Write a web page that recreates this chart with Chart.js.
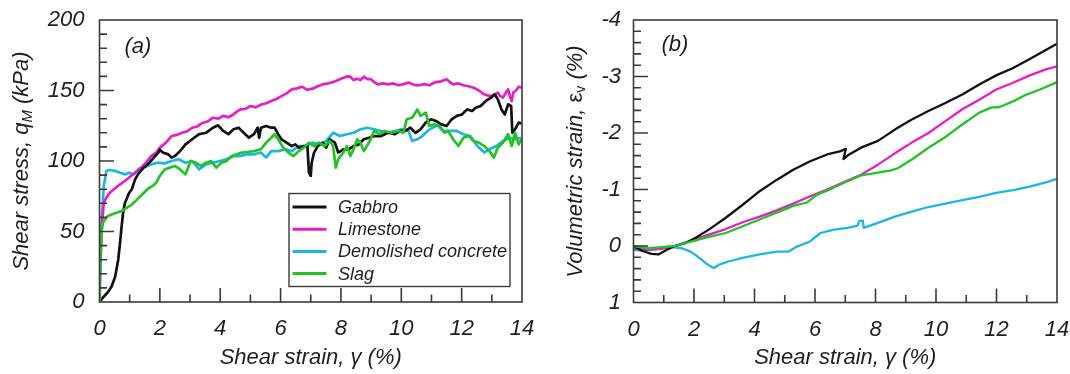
<!DOCTYPE html>
<html>
<head>
<meta charset="utf-8">
<script src="https://cdn.jsdelivr.net/npm/chart.js@4.4.1/dist/chart.umd.min.js"></script>
<style>
  html, body { margin: 0; padding: 0; background: #fff; overflow: hidden; }
  #wrap { position: relative; width: 1070px; height: 374px; overflow: hidden; }
  .panel { position: absolute; top: 0; }
  #panelA { left: 0; }
  #panelB { left: 540px; }
</style>
</head>
<body>
<div id="wrap">
  <div class="panel" id="panelA"><canvas id="stressChart" width="540" height="374"></canvas></div>
  <div class="panel" id="panelB"><canvas id="volumeChart" width="560" height="374"></canvas></div>
</div>
<script>
// Series names and colours
const materials = ['Gabbro', 'Limestone', 'Demolished concrete', 'Slag'];
const colors = ['#111111', '#e61ec6', '#1cb5e8', '#22c322'];

// Axis ticks
const strainTicks = [0, 2, 4, 6, 8, 10, 12, 14];
const stressTicks = [0, 50, 100, 150, 200];
const volumeTicks = [-4, -3, -2, -1, 0, 1];

// (a) shear stress q_M (kPa) against shear strain (%)
const gabbroStress = [[0,0],[0.11,3],[0.28,7],[0.4,11],[0.52,18],[0.62,30],[0.68,42],[0.73,53],[0.78,63],[0.84,70],[0.97,77],[1.07,80],[1.18,87],[1.29,91],[1.45,95],[1.62,98],[1.82,103],[1.95,106],[2.0,108],[2.1,106],[2.28,104.7],[2.39,102.4],[2.5,103.5],[2.67,107],[2.85,111.8],[3.07,115.4],[3.3,119],[3.53,120],[3.76,123.6],[3.93,125.3],[4.1,121.3],[4.27,119],[4.44,122.5],[4.61,123.6],[4.78,120],[4.95,116.5],[5.12,119],[5.24,123.6],[5.29,116.5],[5.35,123.6],[5.52,124.8],[5.69,123.6],[5.8,123.6],[5.92,119],[6.03,115.4],[6.2,113],[6.37,110.6],[6.49,111.8],[6.6,109.5],[6.77,110.6],[6.89,110.6],[6.94,91.7],[7.0,89.4],[7.03,98.8],[7.11,106],[7.23,110.6],[7.4,113],[7.51,109.5],[7.63,115.4],[7.8,113],[7.91,106],[8.08,108.3],[8.25,108.3],[8.42,110.6],[8.59,111.8],[8.76,115.4],[8.93,116.5],[9.1,117.7],[9.33,117.7],[9.56,120],[9.79,119],[9.96,121.3],[10.13,121.3],[10.3,123.6],[10.47,120],[10.64,122.5],[10.81,127.2],[10.98,129.6],[11.15,128.4],[11.32,126],[11.5,124.8],[11.67,129.6],[11.84,132],[12.01,133],[12.18,136.6],[12.35,135.5],[12.46,137.8],[12.63,139],[12.8,142.6],[12.98,145],[13.09,147.3],[13.2,143.7],[13.32,136.6],[13.43,133],[13.54,140.2],[13.64,139],[13.68,120],[13.77,122.5],[13.89,127.2],[13.98,126.7]];
const limestoneStress = [[0,0],[0.02,24],[0.08,55],[0.14,70],[0.2,73],[0.34,77.5],[0.51,80.5],[0.68,83.5],[0.85,86],[1.02,89],[1.2,92],[1.37,95],[1.55,99],[1.71,103.5],[1.88,106],[2.0,109.5],[2.2,113],[2.39,117.7],[2.56,118.5],[2.73,120],[2.9,121],[3.07,123.6],[3.24,124.5],[3.41,127],[3.58,128],[3.76,130.7],[3.93,130],[4.1,132],[4.27,131],[4.44,133],[4.55,135],[4.67,136.6],[4.84,137],[5.0,139],[5.18,138],[5.35,140],[5.52,141],[5.69,142.5],[5.86,144],[6.03,146],[6.2,148],[6.37,150.8],[6.54,151.5],[6.71,152.7],[6.88,150.5],[7.06,151.3],[7.23,153],[7.4,154.4],[7.57,155],[7.74,156],[7.91,157.5],[8.08,159],[8.2,160],[8.31,159.8],[8.42,157.5],[8.54,158.4],[8.65,157.5],[8.76,159.8],[8.88,158],[8.99,158],[9.1,156],[9.22,154.4],[9.4,155],[9.56,154.4],[9.73,155],[9.9,153.7],[10.07,154.5],[10.24,155.6],[10.41,154],[10.58,153.7],[10.76,154.5],[10.93,153.7],[11.04,155],[11.15,156],[11.32,156.5],[11.5,158],[11.61,156],[11.72,154.4],[11.89,155],[12.06,153.7],[12.23,153],[12.4,152],[12.57,150],[12.75,147.3],[12.86,146.5],[12.98,146],[13.09,147],[13.2,148.5],[13.28,146],[13.37,145],[13.45,148],[13.54,150.8],[13.6,146],[13.66,142.5],[13.71,148.5],[13.8,150],[13.89,152.7],[13.98,152]];
const concreteStress = [[0,2],[0.03,25.5],[0.08,61],[0.14,82],[0.23,93],[0.34,93.6],[0.51,93],[0.68,91.7],[0.85,90.5],[0.97,91.7],[1.14,90.5],[1.31,94.6],[1.48,95.3],[1.71,97.6],[1.93,98.8],[2.16,98.3],[2.39,100],[2.62,101.2],[2.85,98.8],[3.07,100],[3.3,94],[3.53,97.6],[3.76,98.8],[3.98,100],[4.21,101.2],[4.44,103.5],[4.67,103.5],[4.89,104.7],[5.12,104.7],[5.35,106],[5.52,102.4],[5.69,107],[5.92,107],[6.15,108.3],[6.37,107],[6.6,110.6],[6.83,110.6],[7.06,113],[7.28,111.8],[7.51,114.2],[7.74,120],[7.97,117.7],[8.2,119],[8.42,120],[8.65,122.5],[8.88,123.6],[9.1,122.5],[9.33,121.3],[9.56,120],[9.79,121.3],[10.02,122.5],[10.24,121.3],[10.36,114.2],[10.53,115.4],[10.7,117.7],[10.87,121.3],[11.04,123.6],[11.21,125.3],[11.38,121.3],[11.61,121.3],[11.84,121.3],[12.06,119],[12.29,117.7],[12.52,110.6],[12.75,106],[12.92,108.3],[13.15,110.6],[13.37,114.2],[13.6,116.5],[13.77,115.4],[13.98,116.5]];
const slagStress = [[0,0],[0.01,20.8],[0.06,49],[0.11,56],[0.18,58.5],[0.28,61],[0.51,63],[0.74,64.5],[0.91,66.9],[1.08,69.3],[1.25,72.8],[1.42,76.4],[1.59,80],[1.76,82.3],[1.88,84.6],[2.0,89.4],[2.16,94],[2.33,95.3],[2.5,96.5],[2.67,94],[2.85,90.5],[3.02,100],[3.19,98.8],[3.36,96.5],[3.53,98.8],[3.7,100],[3.87,95.3],[4.04,98.8],[4.21,100],[4.38,103.5],[4.55,104.7],[4.72,106],[4.89,106.4],[5.12,107],[5.35,108.3],[5.52,113],[5.69,116.5],[5.8,119],[5.92,115.4],[6.09,109.5],[6.26,106],[6.43,103.5],[6.6,107],[6.77,109.5],[6.94,113],[7.11,110.6],[7.28,113],[7.45,110.6],[7.63,114.2],[7.74,110.6],[7.83,95.3],[7.91,101.2],[8.08,106],[8.2,110.6],[8.31,103.5],[8.42,108.3],[8.54,115.4],[8.65,113],[8.76,107],[8.93,113],[9.1,121.3],[9.28,119],[9.45,121.3],[9.67,120],[9.9,121.3],[10.07,120],[10.18,129.6],[10.36,130.7],[10.53,136.6],[10.64,132],[10.81,134.3],[10.93,124.8],[11.1,126],[11.27,124.8],[11.44,120],[11.55,121.3],[11.72,115.4],[11.89,110.6],[12.06,116.5],[12.23,117.7],[12.4,114.2],[12.57,113],[12.75,110.6],[12.92,107],[13.07,102.4],[13.2,109.5],[13.37,113],[13.54,119],[13.66,110.6],[13.77,120],[13.89,111.8],[13.98,115.4]];

// (b) volumetric strain (%) against shear strain (%)
const gabbroVolume = [[0,0],[0.26,0.08],[0.59,0.14],[0.82,0.15],[1.09,0.07],[1.37,0],[1.71,-0.05],[2.04,-0.14],[2.49,-0.29],[3.05,-0.5],[3.61,-0.73],[4.17,-0.97],[4.73,-1.17],[5.28,-1.35],[5.84,-1.5],[6.4,-1.62],[6.85,-1.68],[7.02,-1.72],[6.94,-1.54],[7.13,-1.62],[7.52,-1.74],[8.08,-1.86],[8.64,-2.06],[9.2,-2.24],[9.75,-2.39],[10.31,-2.53],[10.87,-2.68],[11.43,-2.86],[11.99,-3.02],[12.55,-3.15],[13.1,-3.31],[13.66,-3.48],[14,-3.58]];
const limestoneVolume = [[0,0.04],[0.48,0.07],[0.93,0.05],[1.37,0],[1.93,-0.1],[2.49,-0.2],[3.05,-0.3],[3.61,-0.42],[4.17,-0.52],[4.73,-0.63],[5.28,-0.75],[5.84,-0.88],[6.4,-1.0],[6.96,-1.13],[7.52,-1.26],[8.08,-1.44],[8.64,-1.64],[9.2,-1.83],[9.75,-2.0],[10.31,-2.21],[10.87,-2.42],[11.43,-2.59],[11.99,-2.77],[12.55,-2.89],[13.1,-3.02],[13.66,-3.13],[14,-3.18]];
const concreteVolume = [[0,0.07],[0.26,0.08],[0.7,0.06],[1.15,0.01],[1.6,0.04],[1.88,0.1],[2.1,0.18],[2.38,0.3],[2.55,0.36],[2.66,0.39],[2.83,0.33],[3.16,0.27],[3.61,0.21],[4.17,0.15],[4.73,0.1],[5.12,0.1],[5.4,0.01],[5.84,-0.08],[6.18,-0.23],[6.63,-0.29],[7.07,-0.32],[7.41,-0.36],[7.46,-0.44],[7.58,-0.45],[7.61,-0.32],[8.08,-0.41],[8.64,-0.52],[9.2,-0.61],[9.75,-0.69],[10.31,-0.75],[10.87,-0.81],[11.43,-0.87],[11.99,-0.94],[12.55,-0.99],[13.1,-1.05],[13.66,-1.13],[14,-1.19]];
const slagVolume = [[0,0],[0.48,0.04],[0.93,0.02],[1.37,0],[1.93,-0.08],[2.49,-0.16],[3.05,-0.23],[3.61,-0.35],[4.17,-0.47],[4.73,-0.59],[5.28,-0.71],[5.73,-0.77],[6.07,-0.91],[6.4,-0.98],[6.96,-1.12],[7.52,-1.25],[8.08,-1.3],[8.52,-1.34],[8.75,-1.38],[9.2,-1.53],[9.75,-1.74],[10.31,-1.93],[10.87,-2.15],[11.43,-2.36],[11.82,-2.45],[12.1,-2.46],[12.55,-2.56],[12.99,-2.68],[13.44,-2.77],[14,-2.9]];

const FONT = "'Liberation Sans', Arial, sans-serif";
const INK = '#1e1e1e';
const AXIS = '#3a3a3a';

function toPoints(pairs) {
    return pairs.map(p => ({ x: p[0], y: p[1] }));
}

function makeDatasets(seriesList, width) {
    // Slag is drawn on top, then Gabbro, Limestone, concrete
    const drawOrder = [1, 2, 3, 0];
    return seriesList.map((pairs, i) => ({
        label: materials[i],
        data: toPoints(pairs),
        borderColor: colors[i],
        backgroundColor: colors[i],
        borderWidth: width,
        pointRadius: 0,
        tension: 0,
        borderJoinStyle: 'round',
        order: drawOrder[i]
    }));
}

// Rotated y title with a subscript part
function drawYTitle(ctx, cx, cy, parts) {
    ctx.save();
    ctx.translate(cx, cy);
    ctx.rotate(-Math.PI / 2);
    ctx.fillStyle = INK;
    ctx.textBaseline = 'middle';
    ctx.textAlign = 'left';
    let total = 0;
    parts.forEach(p => {
        ctx.font = p.font;
        p.w = ctx.measureText(p.text).width;
        total += p.w;
    });
    let x = -total / 2;
    parts.forEach(p => {
        ctx.font = p.font;
        ctx.fillText(p.text, x, p.dy || 0);
        x += p.w;
    });
    ctx.restore();
}

// Frame, inward tick marks, titles, panel letter and legend
const panelDecor = {
    id: 'panelDecor',
    afterDatasetsDraw(chart, args, opts) {
        const { ctx, chartArea: a, scales } = chart;
        ctx.save();
        ctx.strokeStyle = AXIS;
        ctx.lineWidth = 1.6;
        ctx.strokeRect(a.left, a.top, a.right - a.left, a.bottom - a.top);

        ctx.beginPath();
        const xs = scales.x, ys = scales.y;
        const nx = Math.round((xs.max - xs.min) / opts.xMinor);
        for (let i = 1; i < nx; i++) {
            const px = xs.getPixelForValue(xs.min + i * opts.xMinor);
            const len = i % opts.xEvery === 0 ? 14 : 7.5;
            ctx.moveTo(px, a.bottom);
            ctx.lineTo(px, a.bottom - len);
        }
        const ny = Math.round((ys.max - ys.min) / opts.yMinor);
        for (let i = 1; i < ny; i++) {
            const py = ys.getPixelForValue(ys.min + i * opts.yMinor);
            const len = i % opts.yEvery === 0 ? 14.5 : 7.5;
            ctx.moveTo(a.left, py);
            ctx.lineTo(a.left + len, py);
        }
        ctx.stroke();

        // panel letter
        ctx.fillStyle = INK;
        ctx.font = 'italic 22px ' + FONT;
        ctx.textBaseline = 'middle';
        ctx.textAlign = 'left';
        ctx.fillText(opts.letter, a.left + opts.letterDx, opts.letterY);

        drawYTitle(ctx, opts.titleX, opts.titleY, opts.titleParts);

        if (opts.legend) {
            const lg = opts.legend;
            ctx.fillStyle = '#fff';
            ctx.fillRect(lg.left, lg.top, lg.width, lg.height);
            ctx.strokeStyle = AXIS;
            ctx.lineWidth = 1.4;
            ctx.strokeRect(lg.left, lg.top, lg.width, lg.height);
            ctx.font = 'italic 18px ' + FONT;
            chart.data.datasets.forEach((ds, i) => {
                const y = lg.top + 13.5 + i * 22.2;
                ctx.strokeStyle = ds.borderColor;
                ctx.lineWidth = 3;
                ctx.beginPath();
                ctx.moveTo(lg.left + 3.5, y);
                ctx.lineTo(lg.left + 37.5, y);
                ctx.stroke();
                ctx.fillStyle = INK;
                ctx.fillText(ds.label, lg.left + 49, y + 1);
            });
        }
        ctx.restore();
    }
};

function tickFont() {
    return { family: FONT, size: 22, style: 'italic' };
}

// Label offset comes from an undrawn tick length so that the
// scale padding (ticks.padding) does not push the chart area in
function hiddenTicks(length) {
    return { display: false, drawTicks: true, tickLength: length };
}

function strainAxis(height) {
    return {
        type: 'linear',
        min: 0,
        max: 14,
        grid: hiddenTicks(14),
        border: { display: false },
        ticks: {
            stepSize: 2,
            padding: 0,
            color: INK,
            font: tickFont(),
            maxRotation: 0,
            autoSkip: false
        },
        afterBuildTicks: axis => { axis.ticks = strainTicks.map(v => ({ value: v })); },
        title: {
            display: true,
            text: 'Shear strain, γ (%)',
            color: INK,
            font: { family: FONT, size: 22, style: 'italic' },
            padding: { top: 0, bottom: 3 }
        },
        afterFit: axis => { axis.height = height; }
    };
}

// (a) shear stress
new Chart(document.getElementById('stressChart'), {
    type: 'line',
    data: {
        datasets: makeDatasets([gabbroStress, limestoneStress, concreteStress, slagStress], 2.7)
    },
    options: {
        responsive: false,
        animation: false,
        layout: { padding: { top: 20, right: 18, left: 0, bottom: 0 } },
        scales: {
            x: strainAxis(72),
            y: {
                type: 'linear',
                min: 0,
                max: 200,
                grid: hiddenTicks(15),
                border: { display: false },
                ticks: { stepSize: 50, padding: 0, color: INK, font: tickFont() },
                afterBuildTicks: axis => { axis.ticks = stressTicks.map(v => ({ value: v })); },
                afterFit: axis => { axis.width = 99.5; }
            }
        },
        plugins: {
            legend: { display: false },
            tooltip: { enabled: false },
            panelDecor: {
                xMinor: 1, xEvery: 2, yMinor: 10, yEvery: 5,
                letter: '(a)', letterDx: 25, letterY: 46.5,
                titleX: 22, titleY: 161,
                titleParts: [
                    { text: 'Shear stress, q', font: 'italic 22px ' + FONT },
                    { text: 'M', font: 'italic 15px ' + FONT, dy: 6 },
                    { text: ' (kPa)', font: 'italic 22px ' + FONT }
                ],
                legend: { left: 289, top: 193.5, width: 221, height: 93 }
            }
        }
    },
    plugins: [panelDecor]
});

// (b) volumetric strain
new Chart(document.getElementById('volumeChart'), {
    type: 'line',
    data: {
        datasets: makeDatasets([gabbroVolume, limestoneVolume, concreteVolume, slagVolume], 2.3)
    },
    options: {
        responsive: false,
        animation: false,
        layout: { padding: { top: 20, right: 43, left: 0, bottom: 0 } },
        scales: {
            x: strainAxis(71.5),
            y: {
                type: 'linear',
                min: -4,
                max: 1,
                reverse: true,
                grid: hiddenTicks(12.5),
                border: { display: false },
                ticks: { stepSize: 1, padding: 0, color: INK, font: tickFont() },
                afterBuildTicks: axis => { axis.ticks = volumeTicks.map(v => ({ value: v })); },
                afterFit: axis => { axis.width = 93.5; }
            }
        },
        plugins: {
            legend: { display: false },
            tooltip: { enabled: false },
            panelDecor: {
                xMinor: 1, xEvery: 2, yMinor: 0.2, yEvery: 5,
                letter: '(b)', letterDx: 28, letterY: 44.5,
                titleX: 35.5, titleY: 161.5,
                titleParts: [
                    { text: 'Volumetric strain, ', font: 'italic 22px ' + FONT },
                    { text: 'ε', font: '22px ' + FONT },
                    { text: 'v', font: '14px ' + FONT, dy: 6 },
                    { text: ' (%)', font: 'italic 22px ' + FONT }
                ]
            }
        }
    },
    plugins: [panelDecor]
});
</script>
</body>
</html>
